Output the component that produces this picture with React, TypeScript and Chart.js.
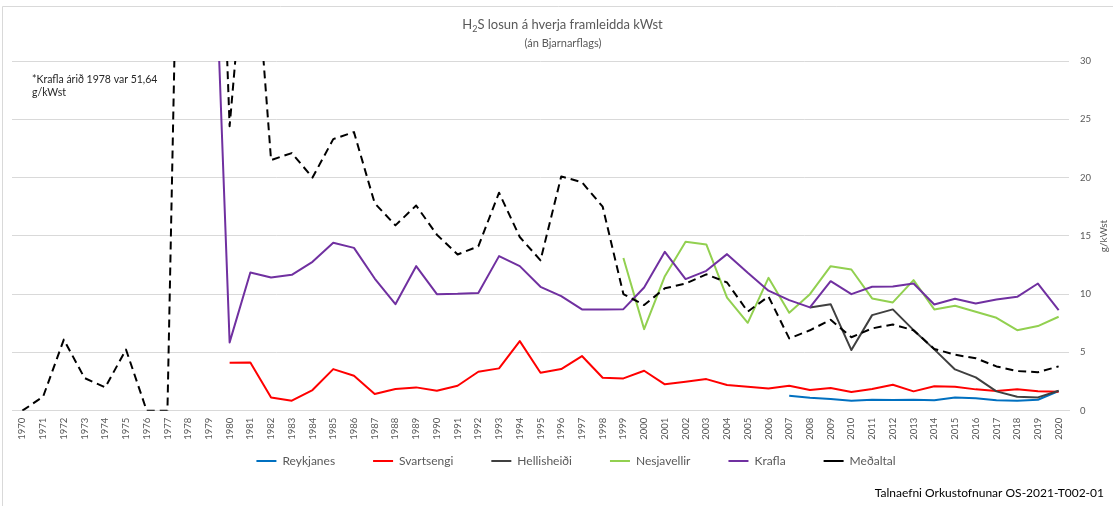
import React, { useEffect, useRef } from "react";
import { Chart, registerables } from "chart.js";

Chart.register(...registerables);

const years = [
  "1970", "1971", "1972", "1973", "1974", "1975", "1976", "1977", "1978", "1979",
  "1980", "1981", "1982", "1983", "1984", "1985", "1986", "1987", "1988", "1989",
  "1990", "1991", "1992", "1993", "1994", "1995", "1996", "1997", "1998", "1999",
  "2000", "2001", "2002", "2003", "2004", "2005", "2006", "2007", "2008", "2009",
  "2010", "2011", "2012", "2013", "2014", "2015", "2016", "2017", "2018", "2019",
  "2020",
];

const yTicks = [0, 5, 10, 15, 20, 25, 30];

// Each series starts at the year given and runs to 2020
const reykjanesStart = "2007";
const reykjanes = [1.29, 1.11, 1.0, 0.86, 0.94, 0.91, 0.94, 0.89, 1.14, 1.06, 0.89, 0.86, 0.94, 1.69];

const svartsengiStart = "1980";
const svartsengi = [
  4.11, 4.14, 1.14, 0.86, 1.77, 3.57, 3.0, 1.43, 1.86, 2.0,
  1.71, 2.14, 3.34, 3.63, 5.97, 3.26, 3.57, 4.69, 2.83, 2.77,
  3.43, 2.26, 2.49, 2.71, 2.2, 2.06, 1.9, 2.14, 1.77, 1.94,
  1.6, 1.86, 2.23, 1.66, 2.09, 2.06, 1.83, 1.69, 1.83, 1.66, 1.63,
];

const hellisheidiStart = "2008";
const hellisheidi = [8.86, 9.14, 5.2, 8.2, 8.69, 6.91, 5.26, 3.54, 2.86, 1.66, 1.2, 1.14, 1.71];

const nesjavellirStart = "1999";
const nesjavellir = [
  13.1, 7.0, 11.54, 14.49, 14.26, 9.71, 7.54, 11.4, 8.4, 10.0, 12.4,
  12.11, 9.63, 9.29, 11.2, 8.69, 9.0, 8.49, 7.97, 6.91, 7.26, 8.06,
];

const kraflaStart = "1978";
const krafla = [
  51.64, 54,
  5.86, 11.86, 11.43, 11.66, 12.77, 14.4, 13.97, 11.34, 9.14, 12.4,
  10.0, 10.03, 10.1, 13.26, 12.4, 10.63, 9.83, 8.69, 8.69, 8.71,
  10.57, 13.63, 11.29, 12.0, 13.43, 11.83, 10.3, 9.49, 8.86, 11.11,
  10.0, 10.63, 10.66, 10.91, 9.11, 9.6, 9.2, 9.54, 9.77, 10.91, 8.63,
];

const medaltalStart = "1970";
const medaltal = [
  0, 1.2, 6.1, 2.8, 2.0, 5.25, 0, 0, 90, 73,
  24.4, 45, 21.5, 22.1, 20.0, 23.3, 23.9, 17.8, 15.9, 17.6,
  15.1, 13.4, 14.1, 18.7, 14.9, 12.9, 20.1, 19.6, 17.5, 10.0,
  9.06, 10.5, 10.9, 11.7, 11.0, 8.5, 9.8, 6.2, 6.9, 7.8,
  6.3, 7.06, 7.4, 6.9, 5.3, 4.8, 4.5, 3.8, 3.4, 3.3, 3.8,
];

const seriesNames = ["Reykjanes", "Svartsengi", "Hellisheiði", "Nesjavellir", "Krafla", "Meðaltal"];

const FONT = "Lato, 'Open Sans', sans-serif";
const LEGEND_PAD = 38;
const LEGEND_TEXT_Y = 461;
const LEGEND_SHIFT_X = 13.5;

function align(start: string, values: number[]): (number | null)[] {
  const s = years.indexOf(start);
  return years.map((_, i) => {
    const k = i - s;
    return k >= 0 && k < values.length ? values[k] : null;
  });
}

const textPlugin = {
  id: "textPlugin",
  afterLayout(chart: any) {
    const lg = chart.legend;
    if (lg) {
      const wantTop = LEGEND_TEXT_Y - 6 - LEGEND_PAD;
      const dy = wantTop - lg.top;
      lg.top += dy;
      lg.bottom += dy;
      lg.left += LEGEND_SHIFT_X;
      lg.right += LEGEND_SHIFT_X;
    }
  },
  beforeDraw(chart: any) {
    const ctx = chart.ctx;
    ctx.save();
    ctx.fillStyle = "#ffffff";
    ctx.fillRect(0, 0, chart.width, chart.height);
    ctx.strokeStyle = "#d9d9d9";
    ctx.lineWidth = 1;
    ctx.beginPath();
    ctx.moveTo(2.5, chart.height + 5);
    ctx.lineTo(2.5, 6.5);
    ctx.lineTo(chart.width + 5, 6.5);
    ctx.stroke();
    ctx.restore();
  },
  afterDraw(chart: any) {
    const ctx = chart.ctx;
    ctx.save();
    // Title with subscript
    const t1 = "H";
    const t2 = "2";
    const t3 = "S losun á hverja framleidda kWst";
    ctx.fillStyle = "#595959";
    ctx.textBaseline = "alphabetic";
    ctx.textAlign = "left";
    ctx.font = `13px ${FONT}`;
    const w1 = ctx.measureText(t1).width;
    const w3 = ctx.measureText(t3).width;
    ctx.font = `9px ${FONT}`;
    const w2 = ctx.measureText(t2).width;
    const total = w1 + w2 + w3;
    let x = 562.5 - total / 2;
    ctx.font = `13px ${FONT}`;
    ctx.fillText(t1, x, 29);
    x += w1;
    ctx.font = `9px ${FONT}`;
    ctx.fillText(t2, x, 32);
    x += w2;
    ctx.font = `13px ${FONT}`;
    ctx.fillText(t3, x, 29);

    // Subtitle
    ctx.textAlign = "center";
    ctx.textBaseline = "middle";
    ctx.font = `11px ${FONT}`;
    ctx.fillText("(án Bjarnarflags)", 563, 43);

    // Axis title (rotated, reading upward)
    ctx.save();
    ctx.translate(1103.5, 236);
    ctx.rotate(-Math.PI / 2);
    ctx.font = `10px ${FONT}`;
    ctx.fillStyle = "#595959";
    ctx.fillText("g/kWst", 0, 0);
    ctx.restore();

    // Annotation
    ctx.textAlign = "left";
    ctx.fillStyle = "#262626";
    ctx.font = `10.5px ${FONT}`;
    ctx.fillText("*Krafla árið 1978 var 51,64", 32, 80);
    ctx.fillText("g/kWst", 32, 93);

    // Source
    ctx.textAlign = "right";
    ctx.fillStyle = "#000000";
    ctx.font = `12px ${FONT}`;
    ctx.fillText("Talnaefni Orkustofnunar OS-2021-T002-01", 1104, 493);
    ctx.restore();
  },
};

export default function App() {
  const canvasRef = useRef<HTMLCanvasElement | null>(null);

  useEffect(() => {
    const canvas = canvasRef.current;
    if (!canvas) return;
    const base = {
      pointRadius: 0,
      pointHoverRadius: 0,
      borderWidth: 2,
      tension: 0,
      spanGaps: false,
      fill: false,
      borderJoinStyle: "round" as const,
    };
    // legend box height = 12 (item) + pad + 10; chart bottom at 410.7 with x-axis 34 high
    const legendH = 12 + LEGEND_PAD + 10;
    const bottomPad = 506 - 410.7 - 34 - legendH;
    const chart = new Chart(canvas, {
      type: "line",
      data: {
        labels: years,
        datasets: [
          { ...base, label: seriesNames[0], data: align(reykjanesStart, reykjanes), borderColor: "#0070C0", backgroundColor: "#0070C0", order: 6 },
          { ...base, label: seriesNames[1], data: align(svartsengiStart, svartsengi), borderColor: "#FF0000", backgroundColor: "#FF0000", order: 5 },
          { ...base, label: seriesNames[2], data: align(hellisheidiStart, hellisheidi), borderColor: "#404040", backgroundColor: "#404040", order: 4 },
          { ...base, label: seriesNames[3], data: align(nesjavellirStart, nesjavellir), borderColor: "#92D050", backgroundColor: "#92D050", order: 3 },
          { ...base, label: seriesNames[4], data: align(kraflaStart, krafla), borderColor: "#7030A0", backgroundColor: "#7030A0", order: 2 },
          { ...base, label: seriesNames[5], data: align(medaltalStart, medaltal), borderColor: "#000000", backgroundColor: "#000000", borderDash: [8, 5], order: 1 },
        ],
      },
      options: {
        responsive: false,
        animation: false,
        devicePixelRatio: 1,
        events: [],
        layout: { padding: { left: 12, top: 61, right: 0, bottom: bottomPad } },
        plugins: {
          title: { display: false },
          tooltip: { enabled: false },
          legend: {
            display: true,
            position: "bottom",
            labels: {
              usePointStyle: true,
              pointStyle: "line",
              pointStyleWidth: 20,
              boxWidth: 20,
              boxHeight: 12,
              padding: LEGEND_PAD,
              color: "#595959",
              font: { family: FONT, size: 12 },
              sort: (a: any, b: any) => a.datasetIndex - b.datasetIndex,
            },
          },
        },
        scales: {
          x: {
            type: "category",
            offset: true,
            grid: { display: false, drawTicks: false },
            border: { display: true, color: "#d9d9d9", width: 1 },
            ticks: {
              autoSkip: false,
              minRotation: 90,
              maxRotation: 90,
              padding: 7,
              color: "#595959",
              font: { family: FONT, size: 9.5 },
            },
            afterFit: (scale: any) => {
              scale.height = 34;
            },
          },
          y: {
            position: "right",
            min: 0,
            max: 30,
            afterBuildTicks: (scale: any) => {
              scale.ticks = yTicks.map((v) => ({ value: v }));
            },
            grid: { color: "#d9d9d9", drawTicks: false, lineWidth: 1 },
            border: { display: false },
            ticks: {
              padding: 11,
              color: "#595959",
              font: { family: FONT, size: 9.5 },
            },
            afterFit: (scale: any) => {
              scale.width = 44;
            },
          },
        },
      },
      plugins: [textPlugin],
    });
    return () => chart.destroy();
  }, []);

  return (
    <div style={{ position: "absolute", left: 0, top: 0, width: 1113, height: 506, background: "#fff" }}>
      <canvas ref={canvasRef} width={1113} height={506} style={{ display: "block", width: 1113, height: 506 }} />
    </div>
  );
}
